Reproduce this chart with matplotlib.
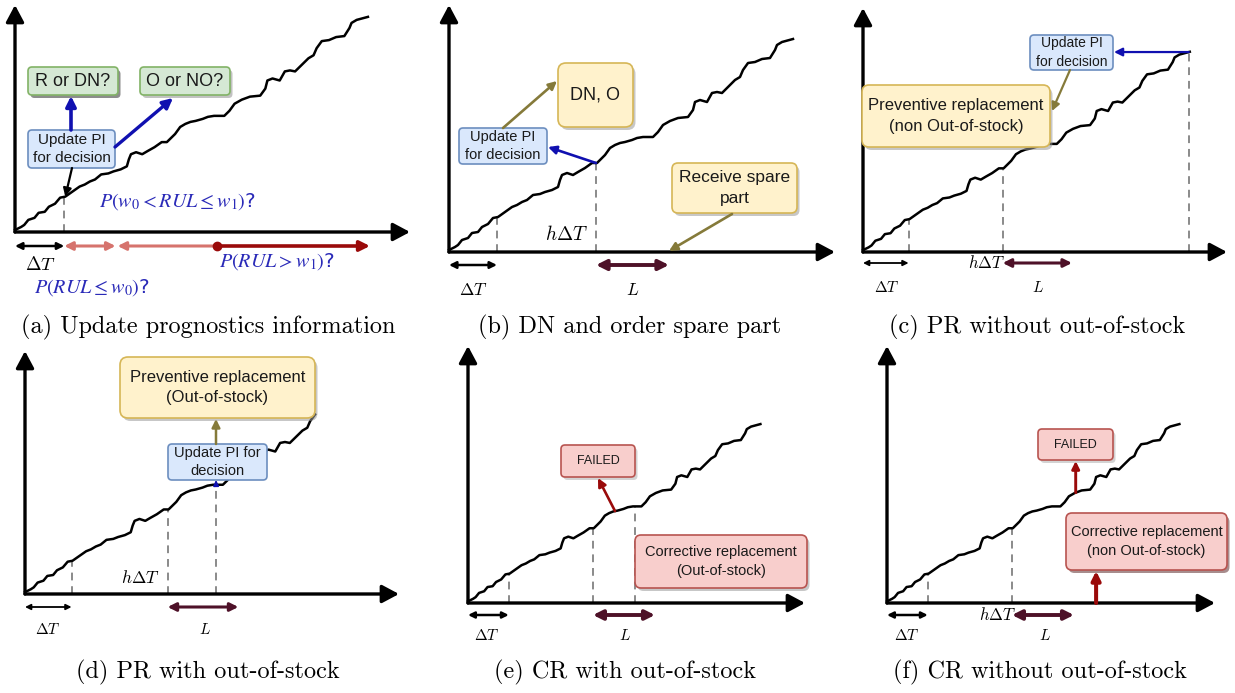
import matplotlib
matplotlib.use('Agg')
import matplotlib.pyplot as plt
from matplotlib.patches import FancyBboxPatch
import numpy as np

W, H = 1235, 693

# degradation path: offsets (px) from the origin
PATH_DX = [0, 6, 9, 13, 19, 23, 29, 33, 39, 44, 49, 56, 63, 68, 73, 78, 84, 91, 96, 103,
           109, 111, 113, 118, 124, 129, 136, 143, 148, 153, 156, 161, 166, 171, 176, 183,
           188, 194, 204, 209, 214, 221, 229, 239, 244, 246, 251, 258, 263, 268, 273, 279,
           286, 291, 294, 299, 306, 313, 321, 326, 328, 333, 344]
PATH_DY = [2, 5, 7, 12, 14, 19, 20, 25, 28, 34, 35, 40, 45, 47, 50, 52, 57, 58, 60, 62,
           65, 72, 77, 79, 77, 80, 84, 89, 89, 94, 97, 104, 107, 109, 110, 112,
           114, 115, 115, 120, 127, 131, 134, 135, 142, 150, 152, 150, 159, 160, 159, 165,
           172, 175, 182, 189, 190, 193, 194, 202, 207, 210, 213]

# event times (same units as PATH_DX)
DT = 48          # Delta T
H_DT = 147       # h Delta T
LEAD = 73        # L
W0, W1 = 98, 197  # prognostic windows in (a)
PR_T = 197       # replacement time in (d), (e)
FAIL_F = 222     # failure in (f)
CR_F = 246       # corrective replacement in (f)

CAPTIONS = ["(a) Update prognostics information", "(b) DN and order spare part",
            "(c) PR without out-of-stock", "(d) PR with out-of-stock",
            "(e) CR with out-of-stock", "(f) CR without out-of-stock"]

# panel layout (pixels)
ORIG = [(15, 232), (449, 252), (863, 252), (25, 594), (468, 603), (887, 603)]
SCALE = [(1.026, 1.01), (1.0, 1.0), (0.95, 0.94), (0.97, 0.95), (0.85, 0.84), (0.85, 0.84)]
AX_END = [(410, 5), (835, 5), (1227, 8), (399, 351), (805, 346), (1215, 346)]
CURVE_END = [344, 344, 344, 302, 344, 344]
CAP_POS = [(208, 327), (630, 327), (1037, 327), (208, 672), (625, 672), (1040, 672)]

BLUE_FC, BLUE_EC = '#dae8fc', '#6c8ebf'
GREEN_FC, GREEN_EC = '#d5e8d4', '#82b366'
YEL_FC, YEL_EC = '#fff2cc', '#d6b656'
PINK_FC, PINK_EC = '#f8cecc', '#b85450'
ARROW_BLUE = '#1010b0'
OLIVE = '#857a3a'
DARKRED = '#9a0a0a'
MAROON = '#4e1128'
LIGHTRED = '#d6736d'
PTXT = '#2a2ab8'

plt.rcParams['mathtext.fontset'] = 'cm'

fig = plt.figure(figsize=(W / 100, H / 100), dpi=100)
ax = fig.add_axes([0, 0, 1, 1])
ax.set_xlim(0, W)
ax.set_ylim(H, 0)
ax.axis('off')


def cdy(dx):
    return float(np.interp(dx, PATH_DX, PATH_DY))


def P(i, dx, dy):
    ox, oy = ORIG[i]
    sx, sy = SCALE[i]
    return ox + dx * sx, oy - dy * sy


def on_curve(i, dx):
    return P(i, dx, cdy(dx))


def arrow(p0, p1, color, lw=1.5, style='-|>', ms=14, z=7):
    ax.annotate('', xy=p1, xytext=p0,
                arrowprops=dict(arrowstyle=style, color=color, lw=lw, shrinkA=0, shrinkB=0,
                                mutation_scale=ms), zorder=z)


def box(x0, y0, x1, y1, fc, ec, text, fs, r=5, z=5, shadow='#9a9a9a'):
    w, h = x1 - x0, y1 - y0
    if shadow:
        ax.add_patch(FancyBboxPatch((x0 + 2.5, y0 + 3), w, h,
                                    boxstyle=f"round,pad=0,rounding_size={r}",
                                    fc=shadow, ec='none', alpha=0.55, zorder=z - 0.1))
    ax.add_patch(FancyBboxPatch((x0, y0), w, h, boxstyle=f"round,pad=0,rounding_size={r}",
                                fc=fc, ec=ec, lw=1.2, zorder=z))
    ax.text((x0 + x1) / 2, (y0 + y1) / 2, text, ha='center', va='center', fontsize=fs,
            family='Liberation Sans', color='#1a1a1a', zorder=z + 0.1, linespacing=1.45)


def math(x, y, s, fs=12, color='black', ha='center'):
    ax.text(x, y, s, ha=ha, va='center', fontsize=fs, color=color, zorder=8)


def ptext(x, y, s, fs=14.5):
    ax.text(x, y, s, ha='center', va='center', fontsize=fs, color=PTXT, zorder=8,
            math_fontfamily='stix')


def dashed(i, dx):
    x0, y0 = P(i, dx, 0)
    _, y1 = on_curve(i, dx)
    ax.plot([x0, x0], [y0, y1], color='#8a8a8a', lw=1.4, ls=(0, (4, 3)), zorder=1)


def base(i):
    ox, oy = ORIG[i]
    ex, ey = AX_END[i]
    st = '-|>,head_length=0.6,head_width=0.32'
    arrow((ox, oy), (ex, oy), 'black', lw=2.4, style=st, ms=17, z=2)
    arrow((ox, oy), (ox, ey), 'black', lw=2.4, style=st, ms=17, z=2)
    dx = np.array([d for d in PATH_DX if d <= CURVE_END[i]])
    dy = np.array([cdy(d) for d in dx])
    xs, ys = zip(*[P(i, a, b) for a, b in zip(dx, dy)])
    ax.plot(xs, ys, color='black', lw=1.8, zorder=3, solid_joinstyle='round')
    cx, cy = CAP_POS[i]
    ax.text(cx, cy, CAPTIONS[i], ha='center', va='center', fontsize=17.5, family='cmr10')


def span(i, a, b, y, color, lw=1.5, style='<|-|>', ms=10):
    x0 = P(i, a, 0)[0]
    x1 = P(i, b, 0)[0]
    arrow((x0, y), (x1, y), color, lw=lw, style=style, ms=ms, z=6)


for i in range(6):
    base(i)

# ---------- (a)
i = 0
dashed(i, DT)
ya = 246
span(i, 0, DT, ya, 'black', lw=1.8)
span(i, DT, W0, ya, LIGHTRED, lw=2.2, ms=12)
span(i, W0 + 2, W1, ya, LIGHTRED, lw=2.2, style='<|-', ms=12)
span(i, W1, 346, ya, DARKRED, lw=2.6, style='-|>', ms=15)
ax.plot([P(i, W1, 0)[0]], [ya], 'o', color=DARKRED, ms=6, zorder=7)
math(40, 264, r'$\mathbf{\Delta} T$', fs=13.5)
ptext(177, 202, r'$P(w_0 < RUL \leq w_1)$?')
ptext(92, 288, r'$P(RUL \leq w_0)$?')
ptext(277, 262, r'$P(RUL > w_1)$?')
box(28, 67, 118, 95, GREEN_FC, GREEN_EC, 'R or DN?', 13, r=4, shadow='#303030')
box(140, 67, 230, 95, GREEN_FC, GREEN_EC, 'O or NO?', 13, r=4, shadow='#909090')
box(28, 130, 115, 168, BLUE_FC, BLUE_EC, 'Update PI\nfor decision', 11, r=4, shadow=None)
arrow((71, 130), (71, 96), ARROW_BLUE, lw=2.6, ms=15)
arrow((115, 147), (173, 98), ARROW_BLUE, lw=2.4, ms=15)
arrow((72, 168), on_curve(i, DT + 1), 'black', lw=1.6, ms=12)

# ---------- (b)
i = 1
dashed(i, DT)
dashed(i, H_DT)
yb = 265
span(i, 0, DT, yb, 'black', lw=1.8)
span(i, H_DT, H_DT + LEAD, yb, MAROON, lw=2.8, ms=15)
math(473, 290, r'$\Delta T$', fs=12.5)
math(633, 290, r'$L$', fs=12.5)
math(567, 235, r'$h\Delta T$', fs=14)
box(558, 63, 633, 127, YEL_FC, YEL_EC, 'DN, O', 13, r=8)
box(459, 128, 547, 164, BLUE_FC, BLUE_EC, 'Update PI\nfor decision', 10.5, r=4, shadow=None)
box(672, 163, 797, 213, YEL_FC, YEL_EC, 'Receive spare\npart', 12.5, r=6)
arrow(on_curve(i, H_DT), (548, 147), ARROW_BLUE, lw=1.9, ms=12)
arrow((503, 128), (557, 81), OLIVE, lw=1.9, ms=12)
arrow((732, 214), P(i, H_DT + LEAD, 1), OLIVE, lw=1.9, ms=12)

# ---------- (c)
i = 2
dashed(i, DT)
dashed(i, H_DT)
dashed(i, 343)
yc = 263
span(i, 0, DT, yc, 'black', lw=1.3, ms=8)
span(i, H_DT, H_DT + LEAD, yc, MAROON, lw=2.2, ms=12)
math(887, 287, r'$\Delta T$', fs=11)
math(1038, 287, r'$L$', fs=11)
math(987, 263, r'$h\Delta T$', fs=12)
box(1030, 35, 1113, 70, BLUE_FC, BLUE_EC, 'Update PI\nfor decision', 10, r=4, shadow=None)
box(862, 85, 1050, 147, YEL_FC, YEL_EC, 'Preventive replacement\n(non Out-of-stock)', 12, r=7)
arrow(on_curve(i, 343), (1114, P(i, 343, cdy(343))[1]), ARROW_BLUE, lw=1.6, ms=12)
arrow((1070, 70), (1052, 111), OLIVE, lw=1.6, ms=12)

# ---------- (d)
i = 3
dashed(i, DT)
dashed(i, H_DT)
dashed(i, PR_T)
yd = 607
span(i, 0, DT, yd, 'black', lw=1.3, ms=8)
span(i, H_DT, H_DT + LEAD, yd, MAROON, lw=2.2, ms=12)
math(48, 630, r'$\Delta T$', fs=11)
math(205, 630, r'$L$', fs=11)
math(140, 578, r'$h\Delta T$', fs=12.5)
box(120, 357, 315, 418, YEL_FC, YEL_EC, 'Preventive replacement\n(Out-of-stock)', 12, r=8)
box(168, 444, 267, 480, BLUE_FC, BLUE_EC, 'Update PI for\ndecision', 10.5, r=4, shadow=None)
arrow(on_curve(i, PR_T), (216, 480), ARROW_BLUE, lw=1.2, ms=8)
arrow((216, 444), (216, 419), OLIVE, lw=1.8, ms=12)

# ---------- (e)
i = 4
dashed(i, DT)
dashed(i, H_DT)
dashed(i, PR_T)
ye = 615
span(i, 0, DT, ye, 'black', lw=1.8, ms=9)
span(i, H_DT, H_DT + LEAD, ye, MAROON, lw=2.8, ms=14)
math(487, 635, r'$\mathbf{\Delta} T$', fs=11)
math(625, 635, r'$L$', fs=11)
box(561, 445, 635, 477, PINK_FC, PINK_EC, 'FAILED', 9, r=4, shadow='#b0b0b0')
box(635, 535, 807, 588, PINK_FC, PINK_EC, 'Corrective replacement\n(Out-of-stock)', 10.5, r=6)
arrow(on_curve(i, 173), (598, 478), DARKRED, lw=1.9, ms=12)

# ---------- (f)
i = 5
dashed(i, DT)
dashed(i, H_DT)
yf = 615
span(i, 0, DT, yf, 'black', lw=1.8, ms=9)
span(i, H_DT, H_DT + LEAD, yf, MAROON, lw=2.8, ms=14)
math(907, 635, r'$\mathbf{\Delta} T$', fs=11)
math(1045, 635, r'$L$', fs=11)
math(998, 615, r'$h\Delta T$', fs=12)
box(1038, 429, 1113, 460, PINK_FC, PINK_EC, 'FAILED', 9, r=4, shadow='#b0b0b0')
box(1066, 513, 1227, 570, PINK_FC, PINK_EC, 'Corrective replacement\n(non Out-of-stock)', 10.5,
    r=6, shadow='#603030')
fx, fy = on_curve(i, FAIL_F)
arrow((fx, fy), (fx, 461), DARKRED, lw=2.1, ms=11)
cx = P(i, CR_F, 0)[0]
arrow((cx, ORIG[i][1]), (cx, 571), DARKRED, lw=2.9, ms=13)

fig.savefig('out.png', dpi=100)
